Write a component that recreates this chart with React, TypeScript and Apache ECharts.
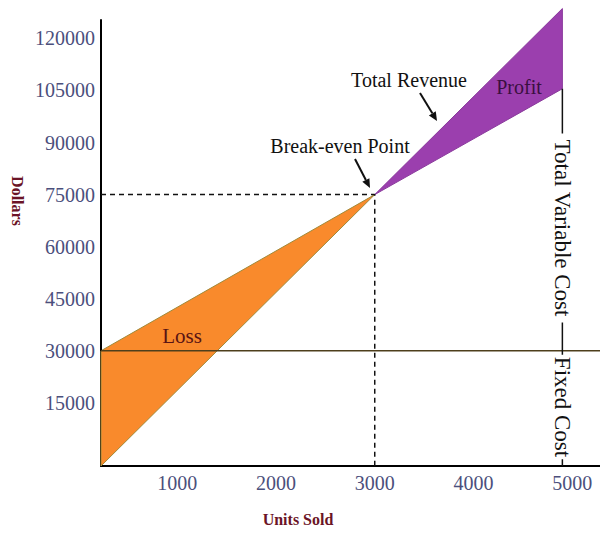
import React, { useEffect, useRef } from "react";
import * as echarts from "echarts";

const X_MIN = 228;
const X_MAX = 5281;
const Y_MIN = -3200;
const Y_MAX = 125300;

const xTicks = [1000, 2000, 3000, 4000, 5000];
const yTicks = [15000, 30000, 45000, 60000, 75000, 90000, 105000, 120000];

const lossRegion = [[228, 30000], [3000, 75000], [228, -3200]];
const profitRegion = [[3000, 75000], [4900, 128600], [4900, 105500]];
const fixedCost = [[228, 30000], [5281, 30000]];
const breakEvenGuide = [[228, 75000], [3000, 75000], [3000, -3200]];
const costBracket = [[4900, 105500], [4900, -3200]];

const SERIF = "'Liberation Serif', 'Times New Roman', serif";

function arrow(x1: number, y1: number, x2: number, y2: number) {
  const a = Math.atan2(y2 - y1, x2 - x1);
  const L = 9, W = 4;
  const bx = x2 - L * Math.cos(a), by = y2 - L * Math.sin(a);
  const px = -Math.sin(a) * W, py = Math.cos(a) * W;
  return [
    { type: "line", z: 100, shape: { x1, y1, x2: bx, y2: by }, style: { stroke: "#111", lineWidth: 2 } },
    { type: "polygon", z: 100, shape: { points: [[x2, y2], [bx + px, by + py], [bx - px, by - py]] }, style: { fill: "#111" } },
  ];
}

function polySeries(region: number[][], fill: string, stroke: string) {
  return {
    type: "custom",
    clip: false,
    z: 3,
    data: [[region[0][0], region[0][1]]],
    renderItem: (_p: any, api: any) => ({
      type: "polygon",
      shape: { points: region.map((pt) => api.coord(pt)) },
      style: { fill, stroke, lineWidth: 1 },
    }),
  };
}

export default function App() {
  const ref = useRef<HTMLDivElement>(null);
  useEffect(() => {
    if (!ref.current) return;
    const chart = echarts.init(ref.current, null, { renderer: "svg" });
    chart.setOption({
      animation: false,
      backgroundColor: "#ffffff",
      grid: { left: 101, right: 0, top: 20, bottom: 71 },
      xAxis: {
        type: "value",
        min: X_MIN,
        max: X_MAX,
        splitLine: { show: false },
        axisTick: { show: false },
        axisLine: { onZero: false, lineStyle: { color: "#000", width: 2 } },
        axisLabel: {
          customValues: xTicks,
          formatter: (v: number) => String(v),
          color: "#4b4f7c",
          fontFamily: SERIF,
          fontSize: 20,
          margin: 7,
        },
      },
      yAxis: {
        type: "value",
        min: Y_MIN,
        max: Y_MAX,
        splitLine: { show: false },
        axisTick: { show: false },
        axisLine: { show: true, onZero: false, lineStyle: { color: "#000", width: 2 } },
        axisLabel: {
          customValues: yTicks,
          formatter: (v: number) => String(v),
          color: "#4b4f7c",
          fontFamily: SERIF,
          fontSize: 20,
          margin: 6,
        },
      },
      series: [
        polySeries(lossRegion, "#f98a2c", "#a08a3a"),
        polySeries(profitRegion, "#9b3fae", "#8a3a9c"),
        {
          type: "line",
          data: fixedCost,
          symbol: "none",
          z: 4,
          lineStyle: { color: "#4e3f1c", width: 1.5 },
        },
        {
          type: "line",
          data: breakEvenGuide,
          symbol: "none",
          z: 4,
          lineStyle: { color: "#111", width: 1.5, type: [5, 4] },
        },
        {
          type: "line",
          data: costBracket,
          symbol: "none",
          z: 4,
          lineStyle: { color: "#111", width: 1.5 },
        },
      ],
      graphic: [
        {
          type: "text", z: 100, x: 17, y: 201, rotation: -Math.PI / 2,
          style: { text: "Dollars", fill: "#6b1426", font: `bold 16px ${SERIF}`, align: "center", verticalAlign: "middle" },
        },
        {
          type: "text", z: 100, x: 298, y: 519,
          style: { text: "Units Sold", fill: "#6b1426", font: `bold 16px ${SERIF}`, align: "center", verticalAlign: "middle" },
        },
        {
          type: "text", z: 100, x: 409, y: 80,
          style: { text: "Total Revenue", fill: "#111", font: `20px ${SERIF}`, align: "center", verticalAlign: "middle" },
        },
        {
          type: "text", z: 100, x: 519, y: 87,
          style: { text: "Profit", fill: "#3a0f40", font: `20px ${SERIF}`, align: "center", verticalAlign: "middle" },
        },
        {
          type: "text", z: 100, x: 340, y: 146,
          style: { text: "Break-even Point", fill: "#111", font: `20px ${SERIF}`, align: "center", verticalAlign: "middle" },
        },
        {
          type: "text", z: 100, x: 182, y: 336,
          style: { text: "Loss", fill: "#5a1414", font: `21px ${SERIF}`, align: "center", verticalAlign: "middle" },
        },
        {
          type: "text", z: 100, x: 562, y: 228, rotation: -Math.PI / 2,
          style: { text: "Total Variable Cost", fill: "#111", font: `23px ${SERIF}`, align: "center", verticalAlign: "middle", backgroundColor: "#fff", padding: [0, 6] },
        },
        {
          type: "text", z: 100, x: 562, y: 407, rotation: -Math.PI / 2,
          style: { text: "Fixed Cost", fill: "#111", font: `23px ${SERIF}`, align: "center", verticalAlign: "middle", backgroundColor: "#fff", padding: [0, 2] },
        },
        ...arrow(420, 93, 437, 121),
        ...arrow(355, 159, 370, 188),
      ],
    });
    return () => chart.dispose();
  }, []);
  return (
    <div
      ref={ref}
      style={{ position: "fixed", left: 0, top: 0, width: 600, height: 537, background: "#fff" }}
    />
  );
}
